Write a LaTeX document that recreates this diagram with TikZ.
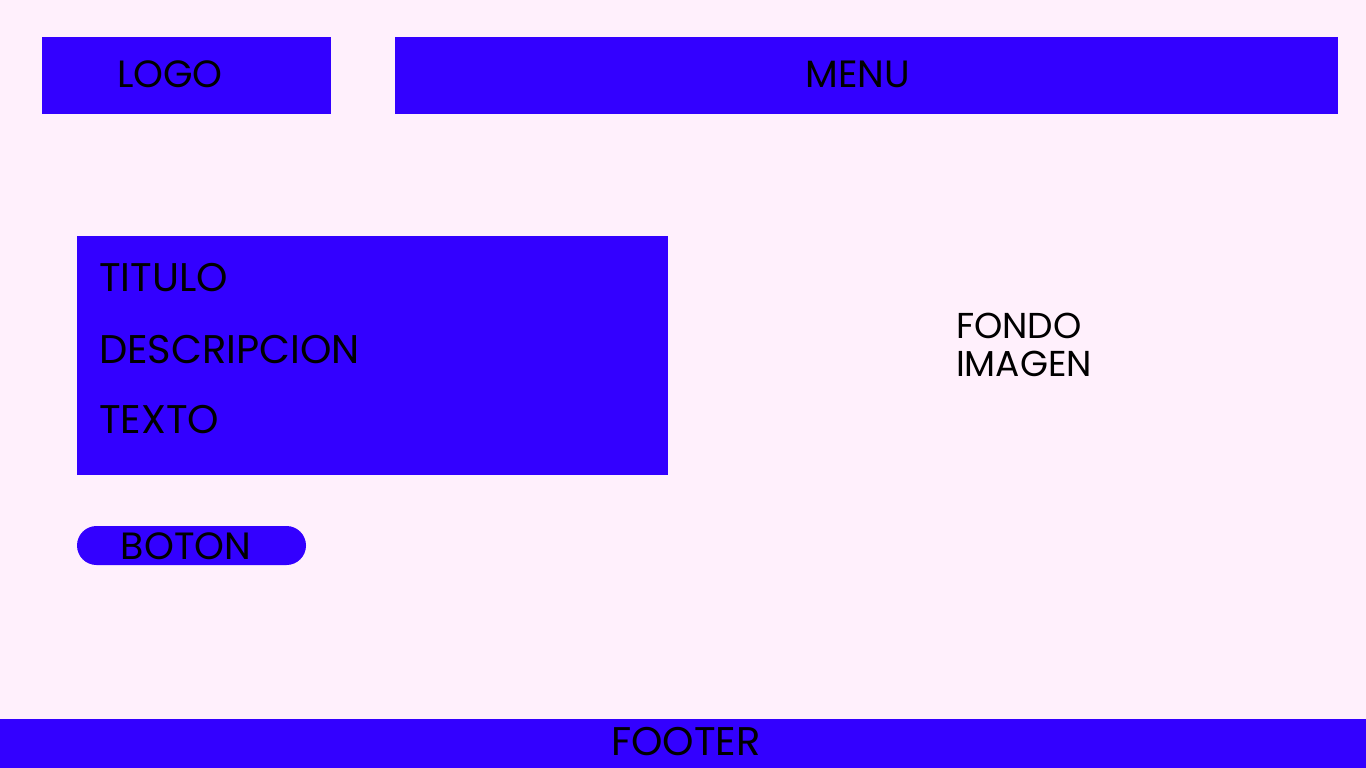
\documentclass[tikz,border=0pt]{standalone}
\usepackage{fontspec}
\setmainfont{Poppins}
\definecolor{bg}{HTML}{FFF0FC}
\definecolor{blu}{HTML}{3300FF}
\begin{document}
\begin{tikzpicture}[x=1pt,y=-1pt,
  box/.style={fill=blu,draw=none,inner sep=0pt,outer sep=0pt},
  lbl/.style={text=black,inner sep=0pt,outer sep=0pt,font=\fontsize{38}{40}\selectfont},
  big/.style={lbl,font=\fontsize{40}{42}\selectfont},
  fondo/.style={lbl,font=\fontsize{36}{38}\selectfont}]
\useasboundingbox (0,0) rectangle (1366,768);
\fill[bg] (0,0) rectangle (1366,768);
% boxes
\node[box,anchor=north west,minimum width=289pt,minimum height=77pt] (logobox) at (42,37) {};
\node[box,anchor=north west,minimum width=943pt,minimum height=77pt] (menubox) at (395,37) {};
\node[box,anchor=north west,minimum width=591pt,minimum height=239pt] (content) at (77,236) {};
\node[box,anchor=north west,minimum width=229pt,minimum height=39pt,rounded corners=19.5pt] (boton) at (77,526) {};
\node[box,anchor=north west,minimum width=1366pt,minimum height=49pt] (footer) at (0,719) {};
% labels
\node[lbl,anchor=base] (logo) at (170,88) {LOGO};
\node[lbl,anchor=base] (menu) at (858,88) {MENU};
\node[big,anchor=base west] (titulo) at (99,291) {TITULO};
\node[big,anchor=base west] (desc) at (99,363) {DESCRIPCION};
\node[big,anchor=base west] (texto) at (99,433) {TEXTO};
\node[lbl,anchor=base] (botontxt) at (186,559) {BOTON};
\node[fondo,anchor=base west] (fondotxt) at (956,338) {FONDO};
\node[fondo,anchor=base west] (imagen) at (956,376) {IMAGEN};
\node[big,anchor=base] (footertxt) at (686,755) {FOOTER};
\end{tikzpicture}
\end{document}
